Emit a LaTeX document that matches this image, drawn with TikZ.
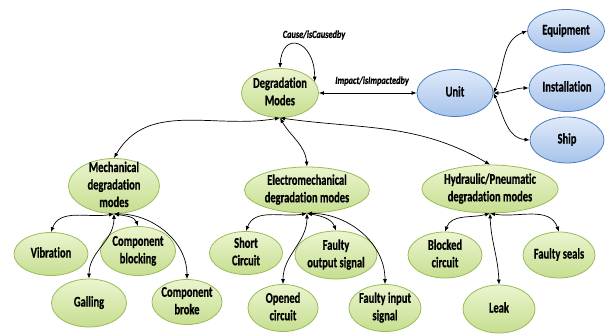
\documentclass[tikz,border=0pt]{standalone}
\usepackage{fontspec}
\usepackage{graphicx}
\setmainfont[RawFeature=-liga, BoldFeatures={FakeBold=0.8}, BoldItalicFeatures={FakeBold=0.8}]{Carlito}
\usetikzlibrary{shapes.geometric,arrows.meta}
\definecolor{grTop}{HTML}{EBF5CF}
\definecolor{grBot}{HTML}{C6DE90}
\definecolor{grBorder}{HTML}{9BBB59}
\definecolor{blTop}{HTML}{E0EBFA}
\definecolor{blBot}{HTML}{A6C2EA}
\definecolor{blBorder}{HTML}{4A7EBB}
\newcommand{\ttx}[1]{\scalebox{1}[1.4]{\begin{tabular}{@{}c@{}}#1\end{tabular}}}
\tikzset{
  ell/.style={ellipse, line width=0.8pt, inner sep=0pt},
  gr/.style={ell, draw=grBorder, top color=grTop, bottom color=grBot},
  bl/.style={ell, draw=blBorder, top color=blTop, bottom color=blBot},
  txt/.style={font=\fontsize{10.5}{12.5}\selectfont\bfseries, inner sep=0pt, text=black},
  con/.style={{Latex[length=5pt,width=4pt]}-{Latex[length=5pt,width=4pt]}, line width=0.7pt},
  rel/.style={font=\fontsize{8.3}{10}\selectfont\bfseries\itshape, inner sep=0pt}
}
\begin{document}
\begin{tikzpicture}[x=1pt,y=1pt]
\useasboundingbox (0,0) rectangle (605,333);
\fill[white] (0,0) rectangle (605,333);
% top level
\node[gr, minimum width=77, minimum height=49, label={[txt]center:\ttx{Degradation\\Modes}}] (dm) at (280,240) {};
\node[bl, minimum width=76, minimum height=47, label={[txt]center:\ttx{Unit}}] (unit) at (455,240) {};
\node[bl, minimum width=77, minimum height=43, label={[txt]center:\ttx{Equipment}}] (equip) at (566,302) {};
\node[bl, minimum width=76, minimum height=47, label={[txt]center:\ttx{Installation}}] (inst) at (567,245) {};
\node[bl, minimum width=74, minimum height=46, label={[txt]center:\ttx{Ship}}] (ship) at (567,193) {};
% second level
\node[gr, minimum width=91, minimum height=55, label={[txt]center:\ttx{Mechanical\\degradation\\modes}}] (mech) at (114,147) {};
\node[gr, minimum width=125, minimum height=46, label={[txt]center:\ttx{Electromechanical\\degradation modes}}] (elec) at (307,143) {};
\node[gr, minimum width=136, minimum height=48, label={[txt]center:\ttx{Hydraulic/Pneumatic\\degradation modes}}] (hydr) at (490,144) {};
% mechanical children
\node[gr, minimum width=74, minimum height=43, label={[txt]center:\ttx{Vibration}}] (vib) at (51,79) {};
\node[gr, minimum width=75, minimum height=49, label={[txt]center:\ttx{Component\\blocking}}] (cblk) at (138,82) {};
\node[gr, minimum width=75, minimum height=48, label={[txt]center:\ttx{Galling}}] (gall) at (89,30) {};
\node[gr, minimum width=70, minimum height=45, label={[txt]center:\ttx{Component\\broke}}] (cbrk) at (187,31) {};
% electromechanical children
\node[gr, minimum width=73, minimum height=43, label={[txt]center:\ttx{Short\\Circuit}}] (short) at (246,80) {};
\node[gr, minimum width=82, minimum height=48, label={[txt]center:\ttx{Faulty\\output signal}}] (fout) at (336,78) {};
\node[gr, minimum width=70, minimum height=47, label={[txt]center:\ttx{Opened\\circuit}}] (open) at (283,25) {};
\node[gr, minimum width=72, minimum height=47, label={[txt]center:\ttx{Faulty input\\signal}}] (fin) at (385,25) {};
% hydraulic children
\node[gr, minimum width=74, minimum height=46, label={[txt]center:\ttx{Blocked\\circuit}}] (blkc) at (445,78) {};
\node[gr, minimum width=72, minimum height=46, label={[txt]center:\ttx{Faulty seals}}] (seals) at (559,78) {};
\node[gr, minimum width=72, minimum height=48, label={[txt]center:\ttx{Leak}}] (leak) at (499,24) {};
% relation labels
\node[rel] (lcause) at (314,298) {\scalebox{1}[1.3]{Cause/isCausedby}};
\node[rel] (limpact) at (372,252) {\scalebox{1}[1.3]{Impact/isImpactedby}};
% connectors
\draw[con] (dm.north) .. controls +(2,38) and +(0,42) .. (dm.18);
\draw[con] (dm.east) -- (unit.west);
\draw[con] (unit.east) to[out=65, in=200] (equip.west);
\draw[con] (unit.east) to[out=0, in=180] (inst.west);
\draw[con] (unit.east) to[out=-65, in=175] (ship.west);
\draw[con] (dm.south) to[out=190, in=60] (mech.north);
\draw[con] (dm.south) to[out=-60, in=95] (elec.north);
\draw[con] (dm.south) to[out=-8, in=150] (hydr.north);
\draw[con] (mech.south) to[out=190, in=70] (vib.north);
\draw[con] (mech.south) to[out=-10, in=110] (cblk.north);
\draw[con] (mech.south) to[out=-90, in=90] (gall.north);
\draw[con] (mech.south) to[out=0, in=90] (cbrk.north);
\draw[con] (elec.south) to[out=190, in=70] (short.north);
\draw[con] (elec.south) to[out=-10, in=110] (fout.north);
\draw[con] (elec.south) to[out=-90, in=90] (open.north);
\draw[con] (elec.south) to[out=0, in=90] (fin.north);
\draw[con] (hydr.south) to[out=195, in=70] (blkc.north);
\draw[con] (hydr.south) to[out=-10, in=110] (seals.north);
\draw[con] (hydr.south) to[out=-88, in=92] (leak.north);
\end{tikzpicture}
\end{document}
